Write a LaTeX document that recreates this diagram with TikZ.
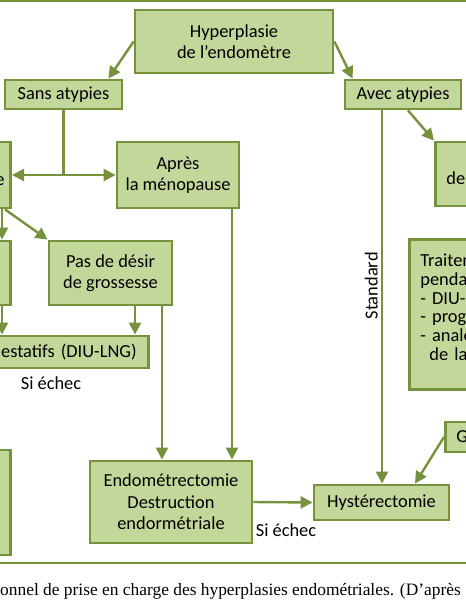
\documentclass[tikz,border=0pt]{standalone}
\usepackage{fontspec}
\setmainfont{Carlito}
\newfontfamily\serifLegende{Liberation Serif}
\usepackage{tikz}
\usetikzlibrary{arrows.meta,positioning,calc}
\definecolor{vertFonce}{RGB}{118,146,60}
\definecolor{vertClair}{RGB}{196,215,155}
\newcommand\policeBoite{\fontsize{18.4}{21.5}\selectfont}
\newcommand\policeListe{\fontsize{18.4}{18.7}\selectfont}
\newcommand\policeLegende{\serifLegende\fontsize{17.4}{21}\selectfont}

\begin{document}
\begin{tikzpicture}[x=1pt,y=-1pt,font=\policeBoite,
  boite/.style={rectangle,draw=vertFonce,fill=vertClair,line width=2.8pt,
                align=center,inner sep=0pt,text=black},
  fleche/.style={-{Triangle[length=12pt,width=12pt]},vertFonce,line width=2.4pt},
  trait/.style={vertFonce,line width=2.4pt},
  etiquette/.style={inner sep=1pt,text=black}]
  \useasboundingbox (0,0) rectangle (466,600);
  \clip (0,0) rectangle (466,600);

  \node[boite,minimum width=198pt,minimum height=63pt] (HYP) at (234,41.5)
    {Hyperplasie\\de l’endomètre};
  \node[boite,minimum width=117pt,minimum height=29pt] (SA) at (63.5,94.5) {Sans atypies};
  \node[boite,minimum width=116pt,minimum height=29pt] (AA) at (403,94.5) {Avec atypies};

  \node[boite,anchor=east,minimum width=80pt,minimum height=66pt,
        text width=68pt,align=right] (DG) at (12,175) {\mbox{}\\e};
  \node[boite,minimum width=122pt,minimum height=66pt] (AP) at (178,175)
    {Après\\la ménopause};
  \node[boite,anchor=east,minimum width=70pt,minimum height=64pt] (LB) at (12,273) {};
  \node[boite,minimum width=123pt,minimum height=64pt] (PD) at (110.5,273)
    {Pas de désir\\de grossesse};
  \node[boite,anchor=east,minimum width=200pt,minimum height=32pt,
        text width=176pt,align=right] (PG) at (150,352) {estatifs (DIU-LNG)};
  \node[boite,anchor=east,minimum width=70pt,minimum height=105pt] (LB2) at (12,502.5) {};
  \node[boite,minimum width=162pt,minimum height=82pt] (EN) at (171,502)
    {Endométrectomie\\Destruction\\endormétriale};
  \node[boite,minimum width=135pt,minimum height=35pt] (HY) at (381.5,502.5) {Hystérectomie};

  \node[boite,anchor=west,minimum width=80pt,minimum height=64pt,
        text width=58pt,align=left] (DR) at (434,174) {\mbox{}\\de};
  \node[boite,anchor=west,minimum width=100pt,minimum height=150pt,
        text width=78pt,align=left,font=\policeListe] (TR) at (408,314.5)
    {Traitem\\pendan\\- DIU-L\\- proge\\- analo\\\hspace*{9pt}de la\\[-4pt]\mbox{}};
  \node[boite,anchor=west,minimum width=60pt,minimum height=30pt,
        text width=38pt,align=left] (GR) at (444,437) {G};

  \node[etiquette] (SE1) at (51,383) {Si échec};
  \node[etiquette] (SE2) at (286,530) {Si échec};

  \draw[fleche] (HYP.west) -- ([xshift=-15pt]SA.north east);
  \draw[fleche] (HYP.east) -- ([xshift=9pt]AA.north west);
  \draw[trait] (SA.south) -- (SA.south |- DG.east);
  \draw[{Triangle[length=12pt,width=12pt]}-{Triangle[length=12pt,width=12pt]},
        vertFonce,line width=2.4pt] (DG.east) -- (AP.west);
  \draw[fleche] ([xshift=-10pt]DG.south east) -- ([xshift=-10pt]LB.north east);
  \draw[fleche] ([xshift=-7pt]DG.south east) -- (PD.north west);
  \draw[fleche] ([xshift=-10pt]LB.south east) -- ([xshift=-10pt]LB.south east |- PG.north);
  \draw[fleche] ([xshift=24.5pt]PD.south) -- ([xshift=24.5pt]PD.south |- PG.north);
  \draw[fleche] ([xshift=51.5pt]PD.south) -- ([xshift=51.5pt]PD.south |- EN.north);
  \draw[fleche] ([xshift=54pt]AP.south) -- ([xshift=54pt]AP.south |- EN.north);
  \draw[fleche] ([xshift=-21pt]AA.south) -- ([xshift=-21pt]AA.south |- HY.north)
    node[pos=0.47,rotate=90,anchor=south,inner sep=3pt,text=black] {Standard};
  \draw[fleche] ([xshift=5pt]AA.south) -- (DR.north west);
  \draw[fleche] (EN.east) -- (HY.west);
  \draw[fleche] (GR.west) -- ([xshift=33.5pt]HY.north);

  \draw[vertFonce,line width=2pt] (0,1) -- (466,1);
  \draw[vertFonce,line width=2pt] (0,563) -- (466,563);
  \node[anchor=west,inner sep=0pt,font=\policeLegende] (LEG) at (0,591)
    {onnel de prise en charge des hyperplasies endométriales. (D’après};
\end{tikzpicture}
\end{document}
